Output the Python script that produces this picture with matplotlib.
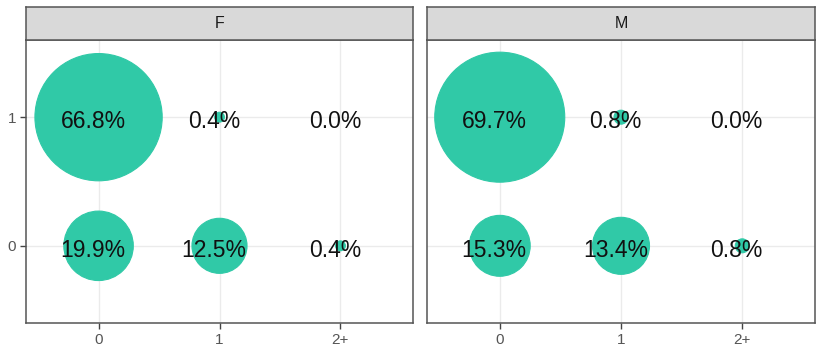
import matplotlib
matplotlib.use('Agg')
import matplotlib.pyplot as plt
import numpy as np

plt.rcParams['font.family'] = ['Liberation Sans', 'DejaVu Sans']

sexes = ['F', 'M']
x_cats = ['0', '1', '2+']
y_cats = ['0', '1']
# percentages per facet, rows follow y_cats, columns follow x_cats
pct_F = [[19.9, 12.5, 0.4],
         [66.8, 0.4, 0.0]]
pct_M = [[15.3, 13.4, 0.8],
         [69.7, 0.8, 0.0]]
facets = {'F': pct_F, 'M': pct_M}

W, H, DPI = 835, 356, 100
fig = plt.figure(figsize=(W / DPI, H / DPI), dpi=DPI)

col = '#30C9A7'
max_pct = max(np.max(pct_F), np.max(pct_M))
max_diam_px = 130.0

panel_x = [(26, 413), (427, 815)]
top_strip, top_panel, bottom_panel = 7, 40, 323

for (x0, x1), s in zip(panel_x, sexes):
    ax = fig.add_axes([x0 / W, (H - bottom_panel) / H, (x1 - x0) / W,
                       (bottom_panel - top_panel) / H])
    st = fig.add_axes([x0 / W, (H - top_panel) / H, (x1 - x0) / W,
                       (top_panel - top_strip) / H])
    st.set_facecolor('#D9D9D9')
    st.set_xticks([]); st.set_yticks([])
    for sp in st.spines.values():
        sp.set_color('#555555'); sp.set_linewidth(1.1)
    st.text(0.5, 0.5, s, ha='center', va='center', fontsize=11.5, color='#1A1A1A',
            transform=st.transAxes)

    data = np.array(facets[s])
    xs, ys, sizes, labels = [], [], [], []
    for yi in range(len(y_cats)):
        for xi in range(len(x_cats)):
            p = data[yi, xi]
            xs.append(xi)
            ys.append(yi)
            d_pt = max_diam_px * np.sqrt(p / max_pct) * 72 / DPI
            sizes.append(d_pt ** 2)
            labels.append('%.1f%%' % p)
    ax.scatter(xs, ys, s=sizes, c=col, edgecolors=col, linewidths=0.8, zorder=3)
    for x, y, lab in zip(xs, ys, labels):
        ax.annotate(lab, (x, y), xytext=(-4, -8), textcoords='offset points',
                    ha='center', va='baseline', fontsize=16.5, color='#111111', zorder=4)

    ax.set_xlim(-0.6, 2.6)
    ax.set_ylim(-0.6, 1.6)
    ax.set_xticks(range(len(x_cats)))
    ax.set_xticklabels(x_cats)
    ax.set_yticks(range(len(y_cats)))
    ax.set_yticklabels(y_cats if s == 'F' else [])
    ax.grid(True, color='#EBEBEB', linewidth=1.0, zorder=0)
    ax.set_axisbelow(True)
    ax.tick_params(length=4, color='#444444', labelcolor='#555555', labelsize=11,
                   width=1.0, pad=3)
    if s != 'F':
        ax.tick_params(axis='y', length=0)
    for sp in ax.spines.values():
        sp.set_color('#555555'); sp.set_linewidth(1.1)

fig.savefig('out.png', dpi=DPI)
